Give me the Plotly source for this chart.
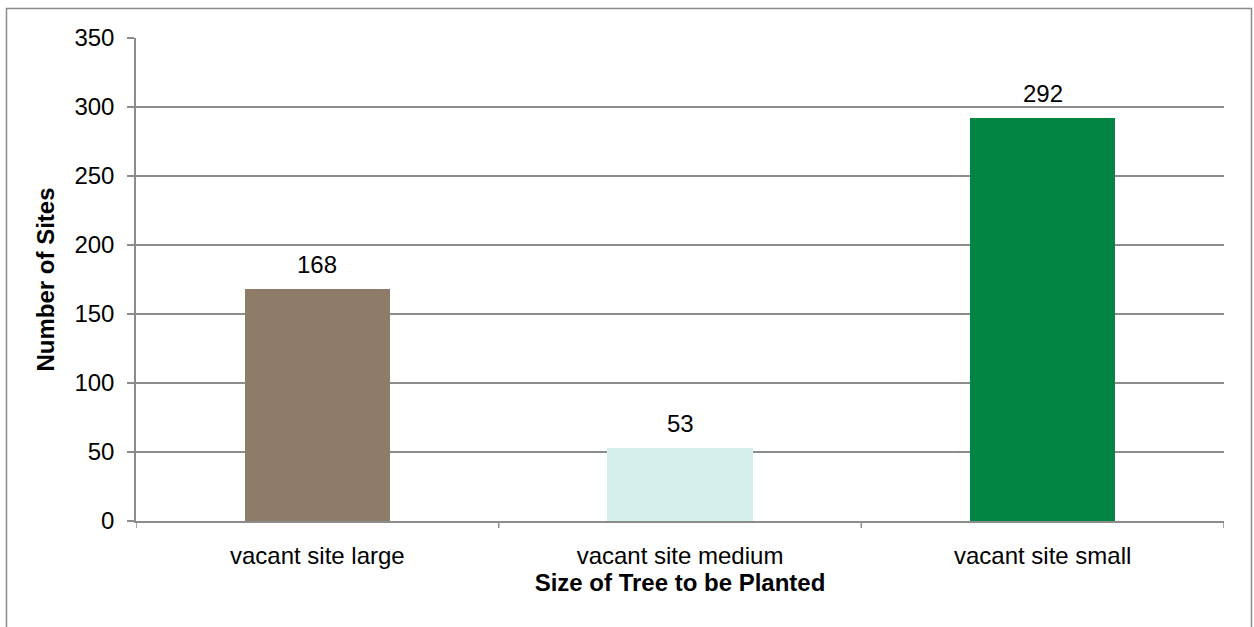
import plotly.graph_objects as go

categories = ["vacant site large", "vacant site medium", "vacant site small"]
site_counts = [168, 53, 292]
bar_colors = ["#8F7C68", "#D5EFEC", "#008542"]
y_ticks = [0, 50, 100, 150, 200, 250, 300, 350]

W, H = 1254, 627
L, R, T, B = 136, 30, 38, 106
plot_w = W - L - R
plot_h = H - T - B

font_family = "Liberation Sans, Arial, sans-serif"
grid_color = "#8C8C8C"
FS = 24

fig = go.Figure(
    go.Bar(
        x=[0, 1, 2],
        y=site_counts,
        marker=dict(color=bar_colors, line=dict(width=0)),
        width=0.4,
        hoverinfo="x+y",
    )
)

# value labels above each bar
for i, v in enumerate(site_counts):
    fig.add_annotation(
        x=i, y=v, xref="x", yref="y",
        text=str(v), showarrow=False,
        yanchor="bottom", yshift=9,
        font=dict(family=font_family, size=FS, color="#000000"),
    )

fig.update_layout(
    width=W,
    height=H,
    margin=dict(l=L, r=R, t=T, b=B, pad=0),
    paper_bgcolor="white",
    plot_bgcolor="white",
    showlegend=False,
    font=dict(family=font_family, size=FS, color="#000000"),
    bargap=0,
)

fig.update_xaxes(
    range=[-0.5, 2.5],
    tickmode="array",
    tickvals=[0, 1, 2],
    ticktext=categories,
    ticks="outside",
    ticklen=12,
    tickcolor="rgba(0,0,0,0)",
    showgrid=False,
    showline=True,
    linecolor=grid_color,
    linewidth=1.5,
    zeroline=False,
    tickfont=dict(size=FS),
    title=dict(text="<b>Size of Tree to be Planted</b>", font=dict(size=FS), standoff=5),
)

fig.update_yaxes(
    range=[0, 350],
    tickmode="array",
    tickvals=y_ticks,
    ticks="outside",
    ticklen=7,
    tickcolor=grid_color,
    tickwidth=1.5,
    ticklabelstandoff=8,
    showgrid=True,
    gridcolor=grid_color,
    gridwidth=1.5,
    showline=True,
    linecolor=grid_color,
    linewidth=1.5,
    zeroline=False,
    tickfont=dict(size=FS),
    title=dict(text="<b>Number of Sites</b>", font=dict(size=FS), standoff=13),
)

# category separator ticks on the category axis
for xv in [-0.5, 0.5, 1.5, 2.5]:
    fig.add_shape(
        type="line", xref="x", yref="paper",
        x0=xv, x1=xv, y0=0, y1=-7 / plot_h,
        line=dict(color=grid_color, width=1.5),
    )

# outer chart border
fig.add_shape(
    type="rect", xref="paper", yref="paper",
    x0=(6.5 - L) / plot_w, x1=(1251.5 - L) / plot_w,
    y0=(H - B - 640) / plot_h, y1=(H - B - 8.5) / plot_h,
    line=dict(color="#8C8C8C", width=1.5),
    fillcolor="rgba(0,0,0,0)",
    layer="below",
)

fig.write_html("out.html")
